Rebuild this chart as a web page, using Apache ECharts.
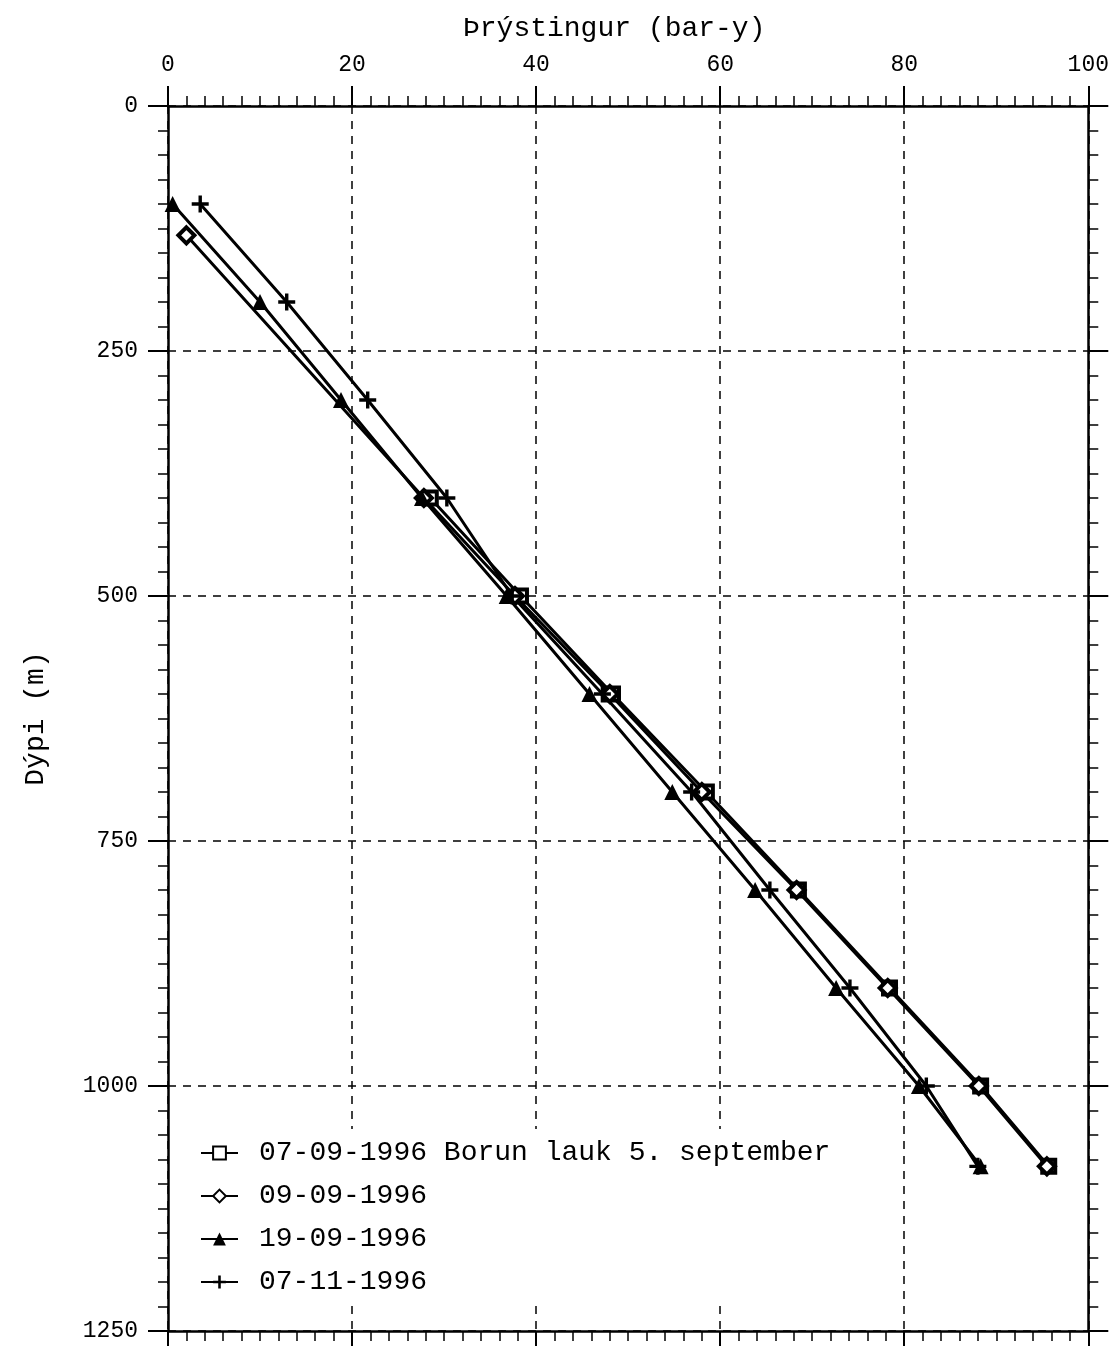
<!DOCTYPE html>
<html>
<head>
<meta charset="utf-8">
<title>Þrýstingur</title>
<script src="https://cdn.jsdelivr.net/npm/echarts@6/dist/echarts.min.js"></script>
<style>
  html, body { margin: 0; padding: 0; background: #fff; }
  #chart { width: 1112px; height: 1346px; }
</style>
</head>
<body>
<div id="chart"></div>
<script>
// series names (legend)
var names = ['07-09-1996 Borun lauk 5. september', '09-09-1996', '19-09-1996', '07-11-1996'];

// depth (m) and pressure (bar-y) per measurement
var depth1 = [400, 500, 600, 700, 800, 900, 1000, 1082];
var press1 = [28.5, 38.3, 48.3, 58.5, 68.5, 78.4, 88.3, 95.7];

var depth2 = [132, 400, 500, 600, 700, 800, 900, 1000, 1082];
var press2 = [2.0, 27.8, 37.7, 48.0, 58.0, 68.3, 78.2, 88.1, 95.5];

var depth3 = [100, 200, 300, 400, 500, 600, 700, 800, 900, 1000, 1082];
var press3 = [0.5, 10.0, 18.8, 27.6, 36.8, 45.8, 54.8, 63.8, 72.6, 81.6, 88.3];

var depth4 = [100, 200, 300, 400, 500, 600, 700, 800, 900, 1000, 1082];
var press4 = [3.5, 12.9, 21.7, 30.3, 37.4, 47.2, 56.9, 65.4, 74.1, 82.4, 88.0];

var xTicks = [0, 20, 40, 60, 80, 100];
var yTicks = [0, 250, 500, 750, 1000, 1250];

function pairs(p, d) {
    var out = [];
    for (var i = 0; i < p.length; i++) out.push([p[i], d[i]]);
    return out;
}

var FONT = 'Liberation Mono';
var plus = 'path://M4,0H6V4H10V6H6V10H4V6H0V4H4Z';

function axisBase(labels) {
    return {
        type: 'value',
        axisLine: { show: true, onZero: false, lineStyle: { color: '#000', width: 2.5 } },
        axisTick: { show: true, inside: false, length: 20, lineStyle: { color: '#000', width: 2 } },
        minorTick: { show: true, splitNumber: 10, length: 10, lineStyle: { color: '#000', width: 1.5 } },
        axisLabel: {
            show: labels, margin: 30, color: '#000', fontFamily: FONT, fontSize: 23,
            formatter: function (v) { return String(v); }
        },
        splitLine: { show: false }
    };
}

var xTop = axisBase(true);
xTop.position = 'top'; xTop.min = xTicks[0]; xTop.max = xTicks[xTicks.length - 1]; xTop.interval = 20;
xTop.splitLine = { show: true, lineStyle: { color: '#000', width: 1.5, type: [8, 7] } };
var xBot = axisBase(false);
xBot.position = 'bottom'; xBot.min = 0; xBot.max = 100; xBot.interval = 20;

var yLeft = axisBase(true);
yLeft.position = 'left'; yLeft.inverse = true; yLeft.min = yTicks[0]; yLeft.max = yTicks[yTicks.length - 1]; yLeft.interval = 250;
yLeft.splitLine = { show: true, lineStyle: { color: '#000', width: 1.5, type: [8, 7] } };
yLeft.name = 'Dýpi (m)';
yLeft.nameLocation = 'middle';
yLeft.nameGap = 118;
yLeft.nameTextStyle = { color: '#000', fontFamily: FONT, fontSize: 28 };
var yRight = axisBase(false);
yRight.position = 'right'; yRight.inverse = true; yRight.min = 0; yRight.max = 1250; yRight.interval = 250;

function lineSeries(name, data, symbol, size, fill) {
    return {
        name: name,
        type: 'line',
        xAxisIndex: 0,
        yAxisIndex: 0,
        data: data,
        symbol: symbol,
        symbolSize: size,
        showAllSymbol: true,
        lineStyle: { color: '#000', width: 3 },
        itemStyle: { color: fill, borderColor: '#000', borderWidth: fill === '#fff' ? 4 : 0 },
        animation: false
    };
}

var option = {
    backgroundColor: '#fff',
    animation: false,
    title: {
        text: 'Þrýstingur (bar-y)',
        left: 458,
        top: 10,
        textStyle: { color: '#000', fontFamily: FONT, fontSize: 28, fontWeight: 'normal' }
    },
    grid: { left: 168, right: 19, top: 106, bottom: 15, containLabel: false },
    legend: {
        orient: 'vertical',
        left: 190,
        top: 1129,
        padding: [10, 20, 10, 10],
        backgroundColor: '#fff',
        itemWidth: 37,
        itemHeight: 16,
        itemGap: 15,
        textStyle: { color: '#000', fontFamily: FONT, fontSize: 28, lineHeight: 28, padding: [0, 0, 0, 16] },
        data: names
    },
    xAxis: [xTop, xBot],
    yAxis: [yLeft, yRight],
    series: [
        lineSeries(names[0], pairs(press1, depth1), 'rect', 13, '#fff'),
        lineSeries(names[1], pairs(press2, depth2), 'diamond', 16, '#fff'),
        lineSeries(names[2], pairs(press3, depth3), 'triangle', 16, '#000'),
        lineSeries(names[3], pairs(press4, depth4), plus, 17, '#000')
    ]
};

var chart = echarts.init(document.getElementById('chart'));
chart.setOption(option);
</script>
</body>
</html>
